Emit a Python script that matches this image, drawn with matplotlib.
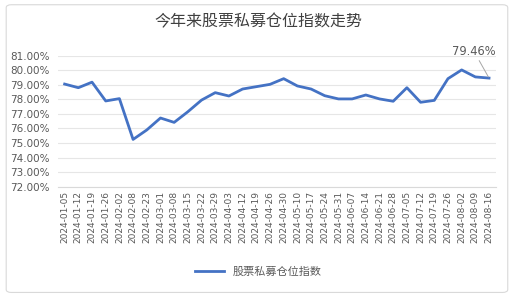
import matplotlib.pyplot as plt
from matplotlib.patches import FancyBboxPatch

plt.rcParams['font.family'] = ['Noto Sans CJK SC', 'DejaVu Sans']

# ========== 数据 ==========
dates = ['2024-01-05', '2024-01-12', '2024-01-19', '2024-01-26', '2024-02-02', '2024-02-08',
         '2024-02-23', '2024-03-01', '2024-03-08', '2024-03-15', '2024-03-22', '2024-03-29',
         '2024-04-03', '2024-04-12', '2024-04-19', '2024-04-26', '2024-04-30', '2024-05-10',
         '2024-05-17', '2024-05-24', '2024-05-31', '2024-06-07', '2024-06-14', '2024-06-21',
         '2024-06-28', '2024-07-05', '2024-07-12', '2024-07-19', '2024-07-26', '2024-08-02',
         '2024-08-09', '2024-08-16']
position = [79.05, 78.80, 79.18, 77.89, 78.05, 75.25, 75.90, 76.72, 76.42, 77.15, 77.95, 78.46,
            78.23, 78.71, 78.87, 79.03, 79.42, 78.92, 78.71, 78.25, 78.03, 78.03, 78.30, 78.03,
            77.87, 78.80, 77.80, 77.93, 79.42, 80.02, 79.54, 79.46]
yticks = [72, 73, 74, 75, 76, 77, 78, 79, 80, 81]

# ========== 绘图 ==========
fig = plt.figure(figsize=(5.16, 2.96), dpi=100)
fig.patches.append(FancyBboxPatch((0.012, 0.012), 0.972, 0.972, boxstyle='round,pad=0,rounding_size=0.01',
                                  transform=fig.transFigure, fill=False, edgecolor='#d9d9d9', linewidth=0.8))
ax = fig.add_axes([0.112, 0.369, 0.849, 0.443])

x = list(range(len(dates)))
ax.plot(x, position, color='#4472C4', linewidth=2.0, solid_joinstyle='round', label='股票私募仓位指数')

ax.set_xlim(-0.5, len(dates) - 0.5)
ax.set_ylim(72, 81)
ax.set_yticks(yticks)
ax.set_yticklabels([f'{v:.2f}%' for v in yticks], fontsize=7.5, color='#595959', family='DejaVu Sans')
ax.set_xticks(x)
ax.set_xticklabels(dates, rotation=90, fontsize=6.5, color='#595959', family='DejaVu Sans')
ax.tick_params(axis='x', length=0, pad=3)
ax.tick_params(axis='y', length=0, pad=6)
ax.grid(axis='y', color='#e6e6e6', linewidth=0.8)
ax.set_axisbelow(True)
for s in ['top', 'right', 'left']:
    ax.spines[s].set_visible(False)
ax.spines['bottom'].set_color('#d9d9d9')

# 末端数据标签
ax.annotate(f'{position[-1]:.2f}%', xy=(x[-1], position[-1]), xytext=(x[-1] - 1.1, 80.85),
            fontsize=8.3, color='#595959', ha='center', va='bottom', family='DejaVu Sans',
            arrowprops=dict(arrowstyle='-', color='#a6a6a6', linewidth=0.7, shrinkA=0, shrinkB=1))

fig.text(0.5, 0.925, '今年来股票私募仓位指数走势', ha='center', va='center', fontsize=11.5,
         color='#404040', fontweight='medium')
fig.legend(loc='center', bbox_to_anchor=(0.5, 0.083), frameon=False, fontsize=8,
           handlelength=2.6, labelcolor='#595959')

fig.savefig('out.png', dpi=100)
